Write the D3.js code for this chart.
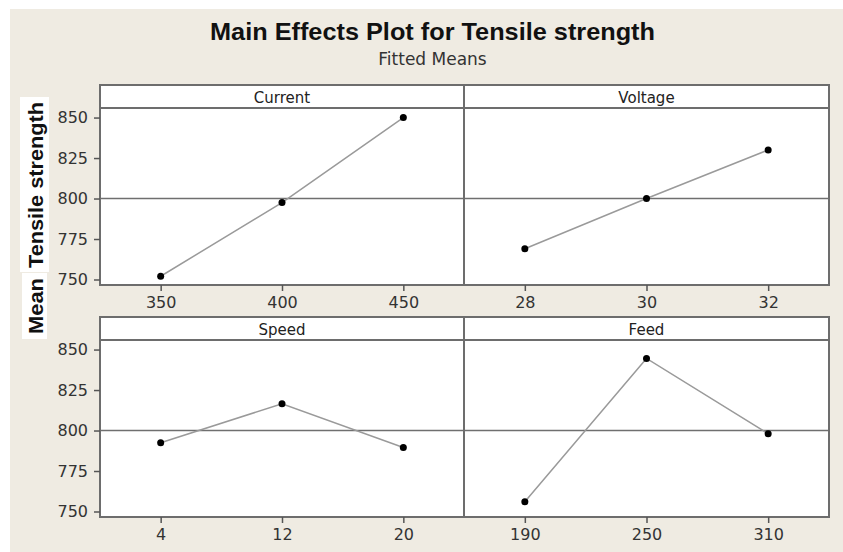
<html>
<head>
<script src="https://d3js.org/d3.v7.min.js"></script>
<style>
    body { margin: 0; background: #fff; }
    text { font-family: "Liberation Sans", Arial, sans-serif; }
    .axis text { font-family: "DejaVu Sans", sans-serif; font-size: 16px; fill: #333; }
    .axis line { stroke: #555; stroke-width: 1.5; }
    .axis .domain { stroke: none; }
    .head { font-family: "DejaVu Sans", sans-serif; font-size: 15px; fill: #222; }
</style>
</head>
<body>
<svg id="chart" width="843" height="552"></svg>
<script>
    // factors and their levels, fitted means
    const factors = ["Current", "Voltage", "Speed", "Feed"];
    const levels = [
        ["350", "400", "450"],
        ["28", "30", "32"],
        ["4", "12", "20"],
        ["190", "250", "310"]
    ];
    const means = [
        [752, 797.5, 850],
        [769, 800, 830],
        [792.5, 816.5, 789.5],
        [756, 844.5, 798]
    ];
    const yTicks = [750, 775, 800, 825, 850];
    const grandMean = 800;

    const svg = d3.select("svg#chart");
    const width = +svg.attr("width");
    const height = +svg.attr("height");

    svg.append("rect").attr("x", 10).attr("y", 9)
        .attr("width", width - 10).attr("height", height - 9)
        .attr("fill", "#efebe2");

    svg.append("text").attr("x", 432.5).attr("y", 40)
        .attr("text-anchor", "middle")
        .attr("textLength", 445).attr("lengthAdjust", "spacingAndGlyphs")
        .style("font-size", "24px").style("font-weight", "bold").style("fill", "#111")
        .text("Main Effects Plot for Tensile strength");
    svg.append("text").attr("x", 432.5).attr("y", 65)
        .attr("text-anchor", "middle")
        .style("font-family", "DejaVu Sans").style("font-size", "17px").style("fill", "#333")
        .text("Fitted Means");

    // y label with white boxes behind
    svg.append("rect").attr("x", 20).attr("y", 97).attr("width", 29).attr("height", 175).attr("fill", "#fff");
    svg.append("rect").attr("x", 22).attr("y", 273).attr("width", 25).attr("height", 66).attr("fill", "#fff");
    svg.append("text").attr("transform", "translate(43,185) rotate(-90)")
        .attr("text-anchor", "middle")
        .attr("textLength", 166).attr("lengthAdjust", "spacingAndGlyphs")
        .style("font-size", "20px").style("font-weight", "bold").style("fill", "#111")
        .text("Tensile strength");
    svg.append("text").attr("transform", "translate(43,306) rotate(-90)")
        .attr("text-anchor", "middle")
        .attr("textLength", 56).attr("lengthAdjust", "spacingAndGlyphs")
        .style("font-size", "20px").style("font-weight", "bold").style("fill", "#111")
        .text("Mean");

    const colX = [100, 464];
    const colW = [364, 365];
    const rowTop = [85, 317];
    const headH = 23;
    const plotH = 177;
    const yDomain = [746.6, 855.9];

    factors.forEach((f, i) => {
        const row = Math.floor(i / 2), col = i % 2;
        const x0 = colX[col], w = colW[col];
        const top = rowTop[row];
        const bottom = top + headH + plotH;

        const x = d3.scalePoint().domain(levels[i]).range([x0, x0 + w]).padding(0.5);
        const y = d3.scaleLinear().domain(yDomain).range([bottom, top + headH]);

        const g = svg.append("g");
        g.append("rect").attr("x", x0).attr("y", top).attr("width", w).attr("height", headH + plotH)
            .attr("fill", "#fff");

        g.append("line")
            .attr("x1", x0).attr("x2", x0 + w)
            .attr("y1", y(grandMean)).attr("y2", y(grandMean))
            .attr("stroke", "#6f6f6f").attr("stroke-width", 1.5);

        g.append("line")
            .attr("x1", x0).attr("x2", x0 + w)
            .attr("y1", top + headH).attr("y2", top + headH)
            .attr("stroke", "#6d6d6d").attr("stroke-width", 2);

        g.append("text").attr("class", "head")
            .attr("x", x0 + w / 2).attr("y", top + 18)
            .attr("text-anchor", "middle")
            .text(f);

        const pts = levels[i].map((l, j) => [l, means[i][j]]);
        g.append("path").datum(pts)
            .attr("fill", "none").attr("stroke", "#9a9a9a").attr("stroke-width", 1.5)
            .attr("d", d3.line().x(d => x(d[0])).y(d => y(d[1])));
        g.selectAll("circle").data(pts).join("circle")
            .attr("cx", d => x(d[0])).attr("cy", d => y(d[1]))
            .attr("r", 3.5).attr("fill", "#000");

        g.append("rect").attr("x", x0).attr("y", top).attr("width", w).attr("height", headH + plotH)
            .attr("fill", "none").attr("stroke", "#6d6d6d").attr("stroke-width", 2);

        g.append("g").attr("class", "axis")
            .attr("transform", `translate(0,${bottom})`)
            .call(d3.axisBottom(x).tickSize(6).tickPadding(6));

        if (col === 0) {
            g.append("g").attr("class", "axis")
                .attr("transform", `translate(${x0},0)`)
                .call(d3.axisLeft(y).tickValues(yTicks).tickSize(6).tickPadding(6));
        }
    });
</script>
</body>
</html>
